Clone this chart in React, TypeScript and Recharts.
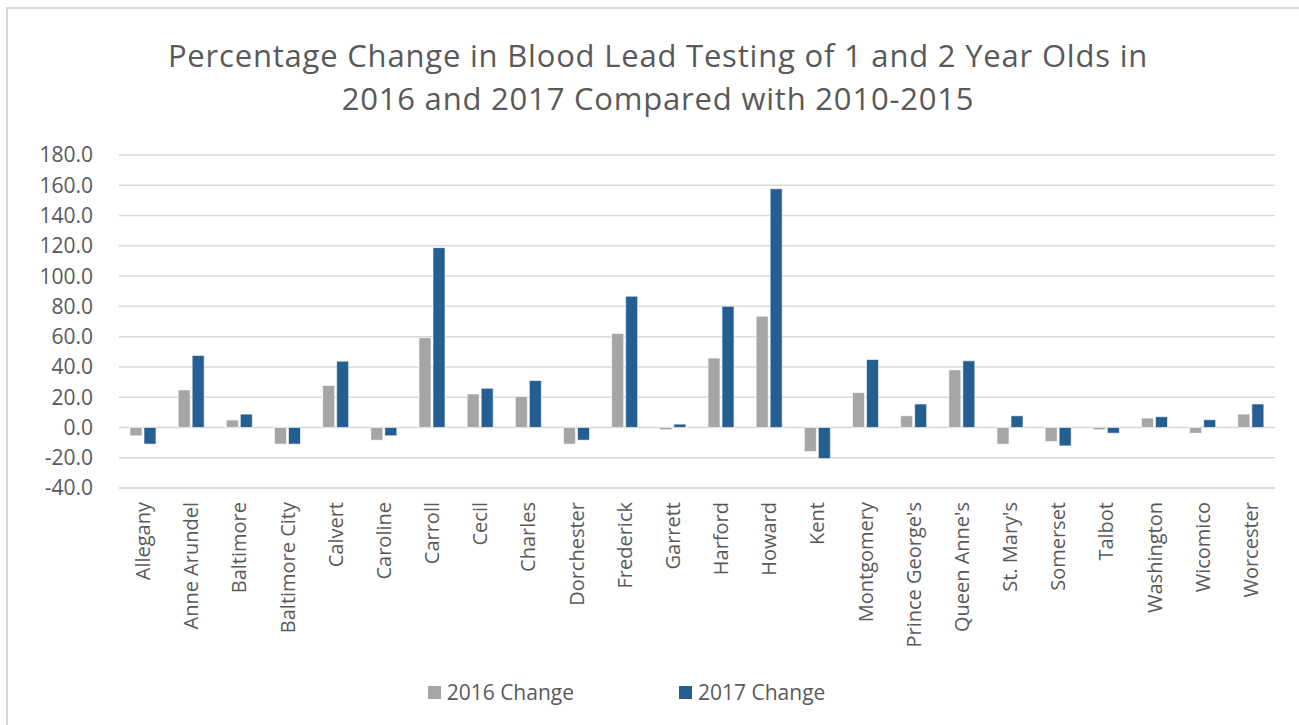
import React from 'react';
import { BarChart, Bar, XAxis, YAxis, CartesianGrid, Legend } from 'recharts';

const counties = [
  'Allegany', 'Anne Arundel', 'Baltimore', 'Baltimore City', 'Calvert', 'Caroline',
  'Carroll', 'Cecil', 'Charles', 'Dorchester', 'Frederick', 'Garrett', 'Harford',
  'Howard', 'Kent', 'Montgomery', "Prince George's", "Queen Anne's", "St. Mary's",
  'Somerset', 'Talbot', 'Washington', 'Wicomico', 'Worcester',
];

const change2016 = [
  -5.5, 24.8, 4.9, -11, 27.7, -8.4, 59.3, 22.1, 20.4, -11, 62, -1.5, 45.8, 73.5,
  -15.9, 23, 7.7, 38, -11, -9.3, -1.5, 6.2, -3.8, 8.8,
];

const change2017 = [
  -11, 47.6, 8.8, -11, 43.8, -5.5, 118.8, 25.9, 31, -8.4, 86.7, 2.2, 80, 157.7,
  -20.6, 44.9, 15.5, 44, 7.7, -12.2, -3.8, 7.1, 5.1, 15.5,
];

const yTicks = [-40, -20, 0, 20, 40, 60, 80, 100, 120, 140, 160, 180];

const seriesNames = ['2016 Change', '2017 Change'];
const colors = ['#A5A5A5', '#255E91'];

const data = counties.map((name, i) => ({
  name,
  c2016: change2016[i],
  c2017: change2017[i],
}));

const axisColor = '#595959';

function CountyTick(props: any) {
  const { x, y, payload } = props;
  return (
    <g transform={`translate(${x},${y})`}>
      <text
        transform="rotate(-90)"
        x={-6}
        y={0}
        dy="0.35em"
        textAnchor="end"
        fill={axisColor}
        fontSize={20}
        fontFamily="Open Sans"
      >
        {payload.value}
      </text>
    </g>
  );
}

function LegendBox() {
  return (
    <div style={{ display: 'flex', justifyContent: 'center', gap: 105, fontFamily: 'Open Sans', fontSize: 21, color: axisColor, paddingTop: 10, paddingRight: 22 }}>
      {seriesNames.map((n, i) => (
        <div key={n} style={{ display: 'flex', alignItems: 'center', gap: 6 }}>
          <span style={{ width: 13, height: 13, background: colors[i], display: 'inline-block' }} />
          <span>{n}</span>
        </div>
      ))}
    </div>
  );
}

export default function App() {
  return (
    <div style={{ position: 'absolute', left: 0, top: 0, width: 1299, height: 725, background: '#fff' }}>
      <div style={{ position: 'absolute', left: 6, top: 7, right: 0, height: 2, background: '#d9d9d9' }} />
      <div style={{ position: 'absolute', left: 6, top: 7, width: 2, bottom: 0, background: '#d9d9d9' }} />
      <div
        style={{
          position: 'absolute',
          left: 0,
          top: 34,
          width: 1316,
          textAlign: 'center',
          fontFamily: 'Open Sans',
          fontSize: 31,
          letterSpacing: 0.8,
          lineHeight: '43px',
          color: axisColor,
        }}
      >
        Percentage Change in Blood Lead Testing of 1 and 2 Year Olds in
        <br />
        2016 and 2017 Compared with 2010-2015
      </div>
      <div style={{ position: 'absolute', left: 0, top: 0 }}>
        <BarChart
          width={1299}
          height={725}
          data={data}
          margin={{ top: 155, right: 24, bottom: 12, left: 0 }}
          barSize={12}
          barGap={2}
        >
          <CartesianGrid vertical={false} stroke="#d9d9d9" strokeWidth={1.5} />
          <XAxis
            dataKey="name"
            interval={0}
            tickLine={false}
            axisLine={{ stroke: '#d9d9d9', strokeWidth: 1.5 }}
            tick={<CountyTick />}
            height={180}
          />
          <YAxis
            domain={[-40, 180]}
            ticks={yTicks}
            width={119}
            tickLine={false}
            axisLine={false}
            tickSize={8}
            tickMargin={18}
            tickFormatter={(v: number) => v.toFixed(1)}
            tick={{ fill: axisColor, fontSize: 21, fontFamily: 'Open Sans' }}
          />
          <Legend verticalAlign="bottom" height={45} content={() => <LegendBox />} />
          <Bar dataKey="c2016" name={seriesNames[0]} fill={colors[0]} stroke="#fff" strokeWidth={0.6} isAnimationActive={false} />
          <Bar dataKey="c2017" name={seriesNames[1]} fill={colors[1]} stroke="#fff" strokeWidth={0.6} isAnimationActive={false} />
        </BarChart>
      </div>
    </div>
  );
}
